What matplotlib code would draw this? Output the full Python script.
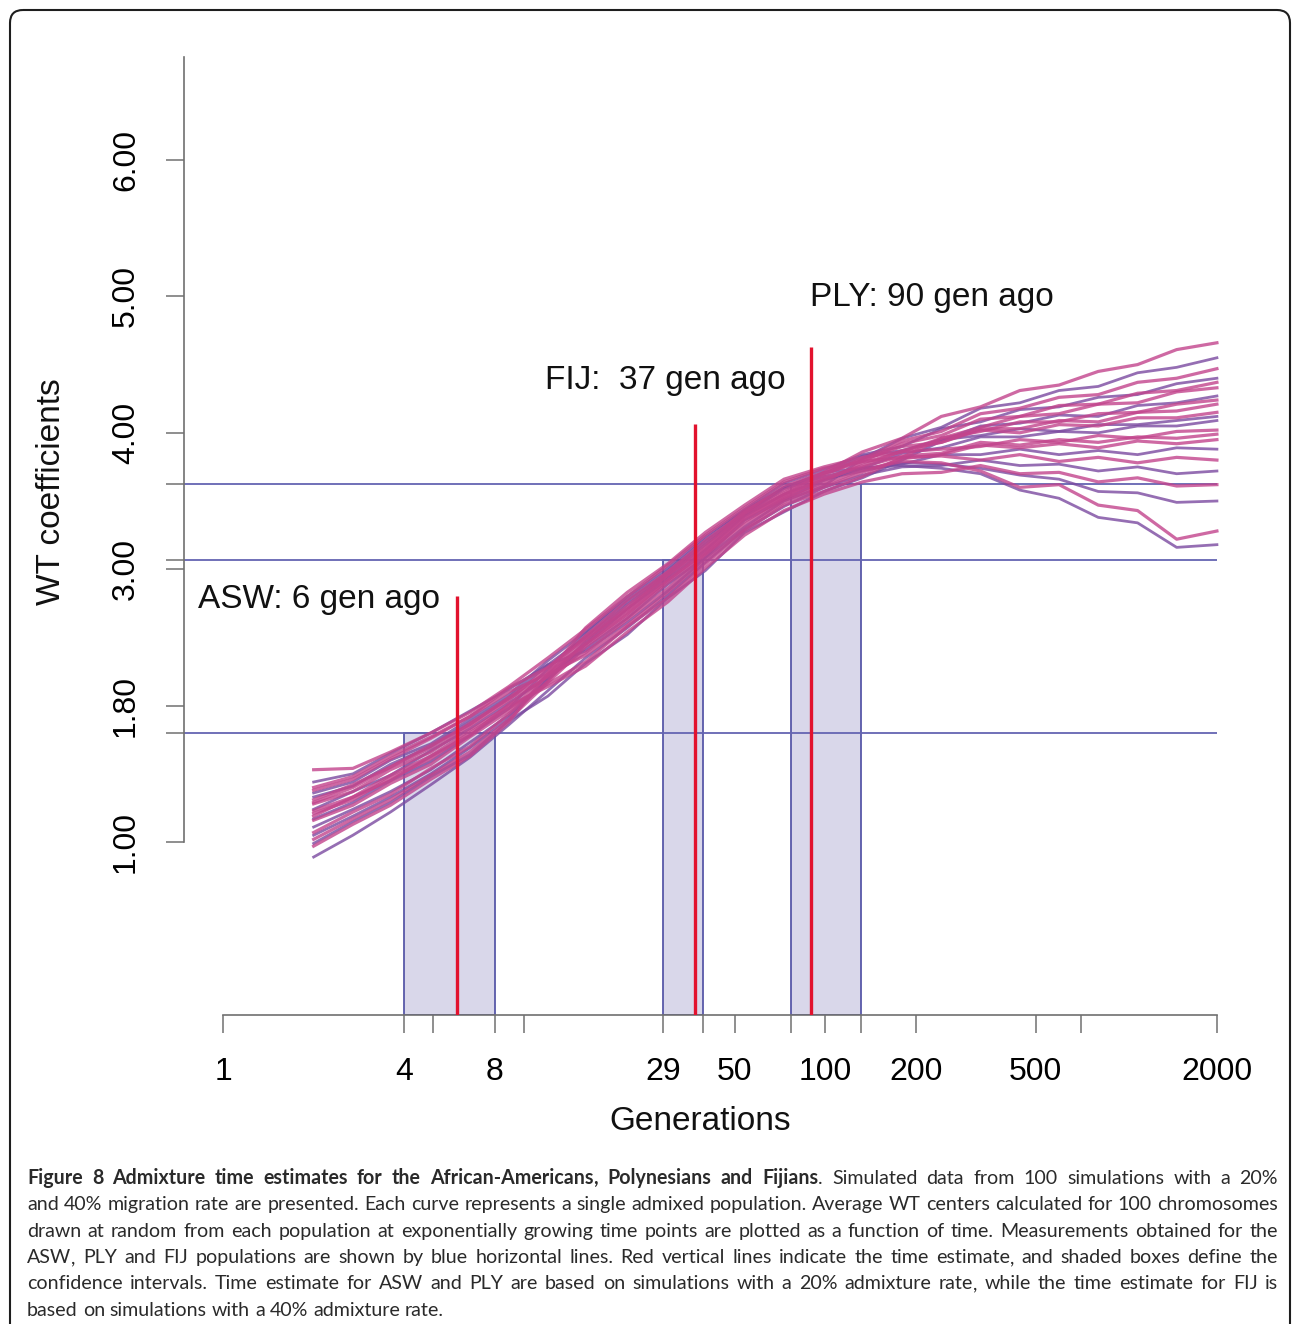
import matplotlib
matplotlib.use('Agg')
import matplotlib.pyplot as plt
from matplotlib.patches import FancyBboxPatch
from matplotlib.ticker import NullLocator

# ---------------- data ----------------
generations = [2, 2.7, 3.6, 4.9, 6.6, 8.9, 12, 16, 22, 30, 40, 54, 73, 99,
               133, 180, 243, 328, 443, 598, 807, 1090, 1470, 2000]

# WT coefficient curves (axis position units), one list per simulated population
pink_runs = [
    [1.28,1.37,1.53,1.66,1.85,2.04,2.28,2.51,2.77,2.98,3.21,3.42,3.61,3.71,3.86,3.96,4.12,4.19,4.31,4.35,4.45,4.50,4.61,4.66],
    [1.07,1.22,1.35,1.54,1.70,1.94,2.18,2.48,2.70,2.95,3.15,3.40,3.55,3.69,3.81,3.94,4.01,4.14,4.18,4.26,4.28,4.37,4.40,4.47],
    [1.21,1.31,1.47,1.61,1.80,1.98,2.16,2.32,2.58,2.79,3.04,3.28,3.47,3.57,3.68,3.82,3.96,4.04,4.12,4.14,4.21,4.22,4.30,4.33],
    [1.31,1.42,1.55,1.71,1.86,2.06,2.25,2.45,2.67,2.92,3.12,3.38,3.53,3.67,3.76,3.87,3.93,4.03,4.03,4.09,4.08,4.15,4.16,4.21],
    [1.16,1.27,1.43,1.57,1.77,1.96,2.22,2.51,2.73,2.98,3.18,3.43,3.58,3.71,3.80,3.90,3.93,4.02,4.00,4.06,4.05,4.11,4.11,4.15],
    [0.97,1.13,1.27,1.46,1.63,1.88,2.24,2.57,2.83,3.04,3.27,3.47,3.66,3.75,3.82,3.86,3.88,3.90,3.95,3.93,3.98,3.96,4.01,4.02],
    [1.38,1.46,1.61,1.76,1.92,2.10,2.23,2.37,2.59,2.83,3.07,3.30,3.49,3.60,3.71,3.81,3.84,3.91,3.89,3.92,3.89,3.94,3.92,3.95],
    [1.53,1.54,1.66,1.80,1.95,2.14,2.35,2.56,2.80,3.03,3.25,3.45,3.64,3.74,3.79,3.82,3.83,3.80,3.84,3.79,3.82,3.78,3.82,3.80],
    [1.23,1.33,1.49,1.63,1.82,2.00,2.14,2.29,2.54,2.76,3.01,3.25,3.43,3.55,3.64,3.70,3.71,3.76,3.70,3.71,3.64,3.67,3.61,3.62],
    [1.29,1.40,1.55,1.69,1.87,2.05,2.21,2.39,2.63,2.86,3.10,3.33,3.51,3.62,3.73,3.79,3.78,3.72,3.60,3.62,3.47,3.43,3.22,3.28],
    [1.40,1.48,1.63,1.77,1.92,2.13,2.28,2.49,2.71,2.96,3.16,3.41,3.56,3.70,3.79,3.92,3.98,4.10,4.12,4.20,4.21,4.29,4.31,4.37],
    [1.02,1.17,1.31,1.49,1.66,1.90,2.17,2.43,2.65,2.90,3.11,3.35,3.52,3.64,3.78,3.86,3.96,4.01,4.08,4.08,4.14,4.15,4.21,4.24],
    [1.19,1.33,1.45,1.63,1.78,2.01,2.22,2.45,2.68,2.92,3.13,3.37,3.54,3.66,3.75,3.83,3.85,3.93,3.91,3.95,3.93,3.97,3.96,3.99],
]
purple_runs = [
    [1.44,1.50,1.65,1.80,1.96,2.12,2.30,2.40,2.61,2.84,3.08,3.31,3.50,3.61,3.81,3.96,4.04,4.18,4.22,4.31,4.34,4.44,4.48,4.55],
    [1.36,1.44,1.60,1.72,1.90,2.08,2.33,2.54,2.80,3.01,3.24,3.44,3.63,3.73,3.84,3.90,4.03,4.08,4.17,4.19,4.26,4.28,4.36,4.40],
    [0.99,1.15,1.29,1.48,1.64,1.89,2.07,2.31,2.52,2.79,2.99,3.27,3.42,3.57,3.67,3.80,3.94,4.05,4.07,4.13,4.12,4.20,4.22,4.27],
    [1.24,1.37,1.49,1.67,1.83,2.02,2.21,2.42,2.64,2.89,3.09,3.36,3.51,3.65,3.74,3.85,3.89,3.97,3.97,4.01,4.00,4.05,4.05,4.09],
    [1.11,1.24,1.37,1.53,1.73,1.93,2.20,2.47,2.74,2.95,3.18,3.40,3.59,3.68,3.74,3.77,3.84,3.84,3.88,3.84,3.87,3.84,3.89,3.88],
    [0.89,1.05,1.22,1.42,1.62,1.86,2.11,2.35,2.57,2.81,3.05,3.29,3.46,3.60,3.69,3.75,3.76,3.80,3.76,3.77,3.72,3.75,3.70,3.72],
    [1.05,1.19,1.33,1.50,1.69,1.91,2.19,2.45,2.71,2.93,3.14,3.39,3.55,3.66,3.72,3.78,3.77,3.74,3.69,3.66,3.57,3.56,3.49,3.50],
    [1.17,1.29,1.45,1.59,1.78,1.98,2.27,2.53,2.78,2.99,3.22,3.43,3.60,3.71,3.74,3.76,3.74,3.70,3.58,3.52,3.38,3.34,3.16,3.18],
    [1.33,1.41,1.57,1.70,1.88,2.06,2.30,2.50,2.76,2.97,3.20,3.41,3.60,3.70,3.83,3.87,3.95,3.98,4.03,4.01,4.06,4.06,4.09,4.12],
]

populations = ['ASW', 'FIJ', 'PLY']
measured_level = [1.80, 3.066, 3.626]        # blue horizontal lines
estimate_gen = [6, 37, 90]                    # red vertical lines
ci_low = [4, 29, 77]                          # shaded boxes
ci_high = [8, 39.4, 131]
estimate_top = [2.80, 4.065, 4.63]
annot_text = ['ASW: 6 gen ago', 'FIJ:  37 gen ago', 'PLY: 90 gen ago']
annot_x = [0.826, 11.73, 89.0]
annot_y = [2.78, 4.38, 4.99]

xtick_vals = [1, 4, 5, 8, 10, 29, 39.4, 50, 77, 100, 131, 200, 500, 707, 2000]
xtick_labels = ['1', '4', '', '8', '', '29', '', '50', '', '100', '', '200', '500', '', '2000']
ytick_vals = [1, 1.80, 2, 3, 3.066, 3.626, 4, 5, 6]
ytick_labels = ['1.00', '', '1.80', '3.00', '', '', '4.00', '5.00', '6.00']

caption_lines = [
    [("Figure 8 Admixture time estimates for the African-Americans, Polynesians and Fijians", True),
     (". Simulated data from 100 simulations with a 20%", False)],
    [("and 40% migration rate are presented. Each curve represents a single admixed population. Average WT centers calculated for 100 chromosomes", False)],
    [("drawn at random from each population at exponentially growing time points are plotted as a function of time. Measurements obtained for the", False)],
    [("ASW, PLY and FIJ populations are shown by blue horizontal lines. Red vertical lines indicate the time estimate, and shaded boxes define the", False)],
    [("confidence intervals. Time estimate for ASW and PLY are based on simulations with a 20% admixture rate, while the time estimate for FIJ is", False)],
    [("based on simulations with a 40% admixture rate.", False)],
]

# ---------------- figure ----------------
W, H = 1293, 1324
plt.rcParams['font.family'] = ['Liberation Sans', 'DejaVu Sans']
fig = plt.figure(figsize=(W / 100, H / 100), dpi=100)
fig.patch.set_facecolor('white')

bg = fig.add_axes([0, 0, 1, 1], zorder=0)
bg.set_xlim(0, W)
bg.set_ylim(H, 0)
bg.axis('off')
bg.add_patch(FancyBboxPatch((10, 10), 1280, 1360,
                            boxstyle='round,pad=0,rounding_size=13',
                            fill=False, lw=1.5, ec='#1e1e1e'))

ax = fig.add_axes([184 / W, 1 - 1015 / H, (1240 - 184) / W, (1015 - 57) / H], zorder=1)
ax.patch.set_alpha(0)
ax.set_xscale('log')
XL = (0.742, 2386)
YL = (-0.268, 6.755)
ax.set_xlim(*XL)
ax.set_ylim(*YL)

axis_col = '#707070'
for s in ['top', 'right']:
    ax.spines[s].set_visible(False)
ax.spines['left'].set_bounds(1, YL[1])
ax.spines['bottom'].set_bounds(1, 2000)
for s in ['left', 'bottom']:
    ax.spines[s].set_color(axis_col)
    ax.spines[s].set_linewidth(1.2)

ax.set_xticks(xtick_vals)
ax.set_xticklabels(xtick_labels)
ax.xaxis.set_minor_locator(NullLocator())
ax.set_yticks(ytick_vals)
ax.set_yticklabels(ytick_labels)
ax.yaxis.set_minor_locator(NullLocator())
ax.tick_params(axis='both', length=13, width=1.1, color=axis_col, labelsize=23, direction='out')
ax.tick_params(axis='x', pad=17)
ax.tick_params(axis='y', pad=18, labelrotation=90)
for t in ax.get_yticklabels():
    t.set_va('center')

pink = '#c2448c'
purple = '#7b4aa0'
box_fill = '#d9d7ea'
box_edge = '#5858a8'
line_blue = '#6464b2'
red = '#e2122e'

for lo, hi, lvl in zip(ci_low, ci_high, measured_level):
    ax.fill([lo, hi, hi, lo], [YL[0], YL[0], lvl, lvl], facecolor=box_fill,
            edgecolor=box_edge, lw=1.3, zorder=1)
ax.hlines(measured_level, XL[0], 2000, color=line_blue, lw=1.3, zorder=2)

for run in purple_runs:
    ax.plot(generations, run, color=purple, lw=2.0, alpha=0.8, zorder=3)
for run in pink_runs:
    ax.plot(generations, run, color=pink, lw=2.3, alpha=0.8, zorder=4)

ax.vlines(estimate_gen, YL[0], estimate_top, color=red, lw=2.4, zorder=6)

for s, x, y in zip(annot_text, annot_x, annot_y):
    ax.text(x, y, s, fontsize=24, ha='left', va='center', color='#111111', zorder=7)

bg.text(52, 492, 'WT coefficients', rotation=90, ha='center', va='center',
        fontsize=24, color='#111111')
bg.text(700, 1122, 'Generations', ha='center', va='center', fontsize=24, color='#111111')

# ---------------- justified caption ----------------
cap_font = 'Lato'
cap_col = '#2a2a2a'
renderer = fig.canvas.get_renderer()


def words_of(segments):
    words = []
    for text, bold in segments:
        parts = text.split(' ')
        for i, p in enumerate(parts):
            if p == '':
                continue
            pieces = []
            if p.endswith(',') and len(p) > 1:
                pieces = [(p[:-1], bold), (',', bold)]
            else:
                pieces = [(p, bold)]
            if i == 0 and words and not text.startswith(' '):
                words[-1].extend(pieces)
            else:
                words.append(pieces)
    return words


def width(s, bold, size):
    t = bg.text(0, 0, s, fontsize=size, family=cap_font,
                fontweight='bold' if bold else 'normal')
    w = t.get_window_extent(renderer).width
    t.remove()
    return w


base = 14.5
left, right = 27, 1278
target = right - left
space = width('a a', False, base) - width('aa', False, base)
lines_w = [words_of(seg) for seg in caption_lines]
nat = []
for wl in lines_w:
    tot = sum(width(p, b, base) for w in wl for p, b in w) + space * (len(wl) - 1)
    nat.append(tot)
size = base * min(1.0, target / max(nat) * 0.995)

baseline0 = 1184
lead = 26.3
for li, wl in enumerate(lines_w):
    widths = [[width(p, b, size) for p, b in w] for w in wl]
    total = sum(sum(ws) for ws in widths)
    last = li == len(lines_w) - 1
    sp = width('a a', False, size) - width('aa', False, size)
    gap = sp if last else (target - total) / (len(wl) - 1)
    x = left
    y = baseline0 + li * lead
    for w, ws in zip(wl, widths):
        xx = x
        for (p, b), pw in zip(w, ws):
            bg.text(xx, y, p, fontsize=size, family=cap_font, va='baseline', ha='left',
                    fontweight='bold' if b else 'normal', color=cap_col)
            xx += pw
        x = xx + gap

fig.savefig('out.png', dpi=100, facecolor='white')
